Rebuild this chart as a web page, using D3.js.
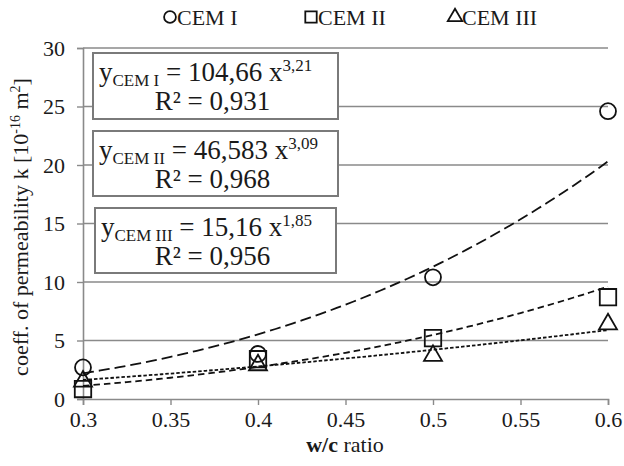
<!DOCTYPE html>
<html>
<head>
<meta charset="utf-8">
<script src="https://cdn.jsdelivr.net/npm/d3@7"></script>
<style>
  html, body { margin: 0; padding: 0; background: #fff; }
  svg { display: block; }
</style>
</head>
<body>
<svg id="chart" width="624" height="466" font-family="Liberation Serif"></svg>
<script>
// w/c ratios measured
const wcRatios = [0.3, 0.4, 0.5, 0.6];

// coefficient of permeability k [10^-16 m^2] per cement type
const cemI   = [2.7, 3.85, 10.4, 24.6];
const cemII  = [0.85, 3.4, 5.2, 8.7];
const cemIII = [1.5, 2.9, 3.7, 6.4];

// power-law fits y = a * x^b
const seriesNames = ["CEM I", "CEM II", "CEM III"];
const fitA = [104.66, 46.583, 15.16];
const fitB = [3.21, 3.09, 1.85];
const fitALabels = ["104,66", "46,583", "15,16"];
const fitBLabels = ["3,21", "3,09", "1,85"];
const r2Labels = ["0,931", "0,968", "0,956"];

const xTicks = [0.3, 0.35, 0.4, 0.45, 0.5, 0.55, 0.6];
const yTicks = [0, 5, 10, 15, 20, 25, 30];

const FONT = "Liberation Serif";
const svg = d3.select("#chart");
const x = d3.scaleLinear().domain([0.3, 0.6]).range([83, 608]);
const y = d3.scaleLinear().domain([0, 30]).range([399, 48]);

const gridColor = "#8a8a8a";
const ink = "#1a1a1a";

// horizontal gridlines
svg.append("g")
  .selectAll("line")
  .data(yTicks.filter(d => d > 0))
  .join("line")
  .attr("x1", x(0.3)).attr("x2", x(0.6))
  .attr("y1", d => y(d)).attr("y2", d => y(d))
  .attr("stroke", gridColor).attr("stroke-width", 1.6);

// y axis
const yAxis = svg.append("g")
  .attr("transform", `translate(${x(0.3)},0)`)
  .call(d3.axisLeft(y).tickValues(yTicks).tickSize(6).tickPadding(12).tickFormat(d3.format("d")));
yAxis.select(".domain").attr("stroke", gridColor).attr("stroke-width", 1.6);
yAxis.selectAll(".tick line").attr("stroke", gridColor).attr("stroke-width", 1.4);
yAxis.selectAll(".tick text").attr("font-size", 22).attr("fill", ink);

// x axis
const xAxis = svg.append("g")
  .attr("transform", `translate(0,${y(0)})`)
  .call(d3.axisBottom(x).tickValues(xTicks).tickSize(6).tickPadding(6).tickFormat(d => String(+d.toFixed(2))));
xAxis.select(".domain").attr("stroke", gridColor).attr("stroke-width", 1.6);
xAxis.selectAll(".tick line").attr("stroke", gridColor).attr("stroke-width", 1.4);
xAxis.selectAll(".tick text").attr("font-size", 22).attr("fill", ink);

// equation boxes
const boxes = [
  { x0: 93, y0: 53, x1: 338, y1: 119 },
  { x0: 93, y0: 131, x1: 338, y1: 196 },
  { x0: 95, y0: 208, x1: 336, y1: 273 }
];
boxes.forEach((b, i) => {
  const g = svg.append("g");
  g.append("rect")
    .attr("x", b.x0).attr("y", b.y0)
    .attr("width", b.x1 - b.x0).attr("height", b.y1 - b.y0)
    .attr("fill", "#fff").attr("stroke", "#7a7a7a").attr("stroke-width", 2);
  const eq = g.append("text")
    .attr("x", b.x0 + 6).attr("y", b.y0 + 28)
    .attr("font-size", 27).attr("fill", ink);
  eq.append("tspan").text("y");
  eq.append("tspan").attr("font-size", 17).attr("dy", 5).text("CEM " + "I".repeat(i + 1));
  eq.append("tspan").attr("dy", -5).text(" = " + fitALabels[i] + " x");
  eq.append("tspan").attr("font-size", 17).attr("dy", -10).text(fitBLabels[i]);
  g.append("text")
    .attr("x", (b.x0 + b.x1) / 2 - 3).attr("y", b.y0 + 57)
    .attr("text-anchor", "middle").attr("font-size", 27).attr("fill", ink)
    .text("R² = " + r2Labels[i]);
});

// trend lines from the fitted equations
const dashes = ["11,5", "6.5,4", "3.5,2"];
const curveXs = d3.range(0, 61).map(i => 0.3 + i * 0.005);
seriesNames.forEach((name, i) => {
  const line = d3.line()
    .x(d => x(d))
    .y(d => y(fitA[i] * Math.pow(d, fitB[i])));
  svg.append("path")
    .datum(curveXs)
    .attr("d", line)
    .attr("fill", "none")
    .attr("stroke", "#111")
    .attr("stroke-width", 1.8)
    .attr("stroke-dasharray", dashes[i]);
});

// markers
const symbols = [d3.symbolCircle, d3.symbolSquare, d3.symbolTriangle];
const symSizes = [200, 270, 140];
const seriesValues = [cemI, cemII, cemIII];
seriesValues.forEach((vals, i) => {
  svg.append("g")
    .selectAll("path")
    .data(vals)
    .join("path")
    .attr("transform", (d, j) => `translate(${x(wcRatios[j])},${y(d)})`)
    .attr("d", d3.symbol().type(symbols[i]).size(symSizes[i]))
    .attr("fill", "none")
    .attr("stroke", "#111")
    .attr("stroke-width", 1.8);
});

// legend
const legendX = [170, 311, 455];
const legend = svg.append("g");
seriesNames.forEach((name, i) => {
  legend.append("path")
    .attr("transform", `translate(${legendX[i]},${17})`)
    .attr("d", d3.symbol().type(symbols[i]).size([110, 130, 90][i]))
    .attr("fill", "none")
    .attr("stroke", "#111")
    .attr("stroke-width", 1.8);
  legend.append("text")
    .attr("x", legendX[i] + 7).attr("y", 25)
    .attr("font-size", 22).attr("fill", ink)
    .text(name);
});

// axis titles
const yTitle = svg.append("text")
  .attr("transform", `translate(28,${227}) rotate(-90)`)
  .attr("text-anchor", "middle")
  .attr("font-size", 22).attr("fill", ink);
yTitle.append("tspan").text("coeff. of permeability k [10");
yTitle.append("tspan").attr("font-size", 14).attr("dy", -8).text("-16");
yTitle.append("tspan").attr("dy", 8).text(" m");
yTitle.append("tspan").attr("font-size", 14).attr("dy", -8).text("2");
yTitle.append("tspan").attr("dy", 8).text("]");

const xTitle = svg.append("text")
  .attr("x", 345).attr("y", 452)
  .attr("text-anchor", "middle")
  .attr("font-size", 22).attr("fill", ink);
xTitle.append("tspan").attr("font-weight", "bold").text("w/c");
xTitle.append("tspan").text(" ratio");

// one serif family for every label
svg.selectAll("text").attr("font-family", FONT);
</script>
</body>
</html>
